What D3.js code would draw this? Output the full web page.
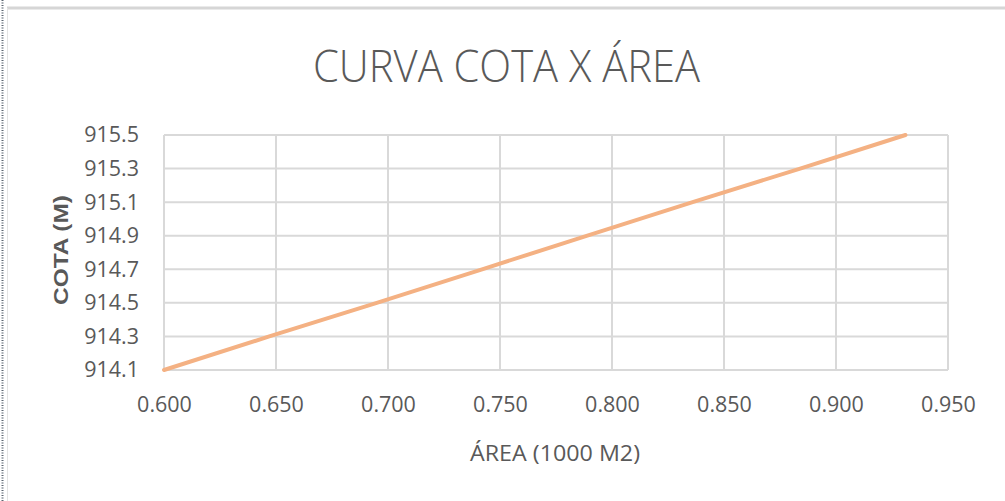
<!DOCTYPE html>
<html>
<head>
<meta charset="utf-8">
<script src="https://cdn.jsdelivr.net/npm/d3@7/dist/d3.min.js"></script>
<style>
  html, body { margin: 0; padding: 0; background: #fff; }
  svg { display: block; }
</style>
</head>
<body>
<svg id="chart" width="1005" height="501"></svg>
<script>
// Elevation (m) vs. flooded area (thousand m²)
const cota = [914.1, 914.3, 914.5, 914.7, 914.9, 915.1, 915.3, 915.5];
const area = [0.600, 0.647, 0.695, 0.742, 0.789, 0.836, 0.884, 0.931];
const xTicks = [0.600, 0.650, 0.700, 0.750, 0.800, 0.850, 0.900, 0.950];
const yTicks = [914.1, 914.3, 914.5, 914.7, 914.9, 915.1, 915.3, 915.5];

const titleText = "CURVA COTA X ÁREA";
const xTitle = "ÁREA (1000 M2)";
const yTitle = "COTA (M)";

const svg = d3.select("#chart");
const W = 1005, H = 501;
const plot = { left: 164, right: 948, top: 135, bottom: 370 };
const textColor = "#595959";
const gridColor = "#d9d9d9";
const font = "'Open Sans', 'Noto Sans', sans-serif";

// frame edges around the chart object
svg.append("rect").attr("x", 0).attr("y", 0).attr("width", W).attr("height", H).attr("fill", "#fff");
svg.append("line").attr("x1", 7).attr("x2", W).attr("y1", 8).attr("y2", 8)
  .attr("stroke", "#d6d6d6").attr("stroke-width", 3);
svg.append("line").attr("x1", 7.5).attr("x2", 7.5).attr("y1", 8).attr("y2", H)
  .attr("stroke", "#e3e3e3").attr("stroke-width", 1);
svg.append("line").attr("x1", 2.5).attr("x2", 2.5).attr("y1", 0).attr("y2", H)
  .attr("stroke", "#5a6470").attr("stroke-width", 2).attr("stroke-dasharray", "1,1.5");

const x = d3.scaleLinear().domain([0.600, 0.950]).range([plot.left, plot.right]);
const y = d3.scaleLinear().domain([914.1, 915.5]).range([plot.bottom, plot.top]);

// gridlines
const grid = svg.append("g");
grid.selectAll("line.v").data(xTicks).join("line").attr("class", "v")
  .attr("x1", d => x(d)).attr("x2", d => x(d))
  .attr("y1", plot.top).attr("y2", plot.bottom)
  .attr("stroke", gridColor).attr("stroke-width", 2);
grid.selectAll("line.h").data(yTicks).join("line").attr("class", "h")
  .attr("x1", plot.left).attr("x2", plot.right)
  .attr("y1", d => y(d)).attr("y2", d => y(d))
  .attr("stroke", gridColor).attr("stroke-width", 2);

// axes (labels only)
const xAxis = svg.append("g").attr("transform", `translate(0,${plot.bottom})`)
  .call(d3.axisBottom(x).tickValues(xTicks).tickFormat(d3.format(".3f")).tickSize(0).tickPadding(27));
const yAxis = svg.append("g").attr("transform", `translate(${plot.left},0)`)
  .call(d3.axisLeft(y).tickValues(yTicks).tickFormat(d3.format(".1f")).tickSize(0).tickPadding(25));
[xAxis, yAxis].forEach(a => {
  a.select(".domain").remove();
  a.selectAll("text").attr("fill", textColor).style("font-family", font).style("font-size", "21.5px");
});

// series line
const line = d3.line().x((d, i) => x(area[i])).y(d => y(d));
svg.append("path").datum(cota).attr("d", line)
  .attr("fill", "none").attr("stroke", "#f4b183").attr("stroke-width", 4)
  .attr("stroke-linecap", "round");

// titles
svg.append("text").attr("x", 313).attr("y", 82)
  .attr("textLength", 387).attr("lengthAdjust", "spacingAndGlyphs")
  .attr("fill", textColor).style("font-family", font).style("font-weight", 300)
  .style("font-size", "45px").text(titleText);

svg.append("text").attr("x", 470).attr("y", 461)
  .attr("textLength", 170).attr("lengthAdjust", "spacingAndGlyphs")
  .attr("fill", textColor).style("font-family", font).style("font-size", "22px")
  .text(xTitle);

svg.append("text").attr("transform", "translate(68,305) rotate(-90)")
  .attr("textLength", 110).attr("lengthAdjust", "spacingAndGlyphs")
  .attr("fill", textColor).style("font-family", "'Liberation Sans', Arial, sans-serif")
  .style("font-weight", "bold").style("font-size", "20px").text(yTitle);
</script>
</body>
</html>
